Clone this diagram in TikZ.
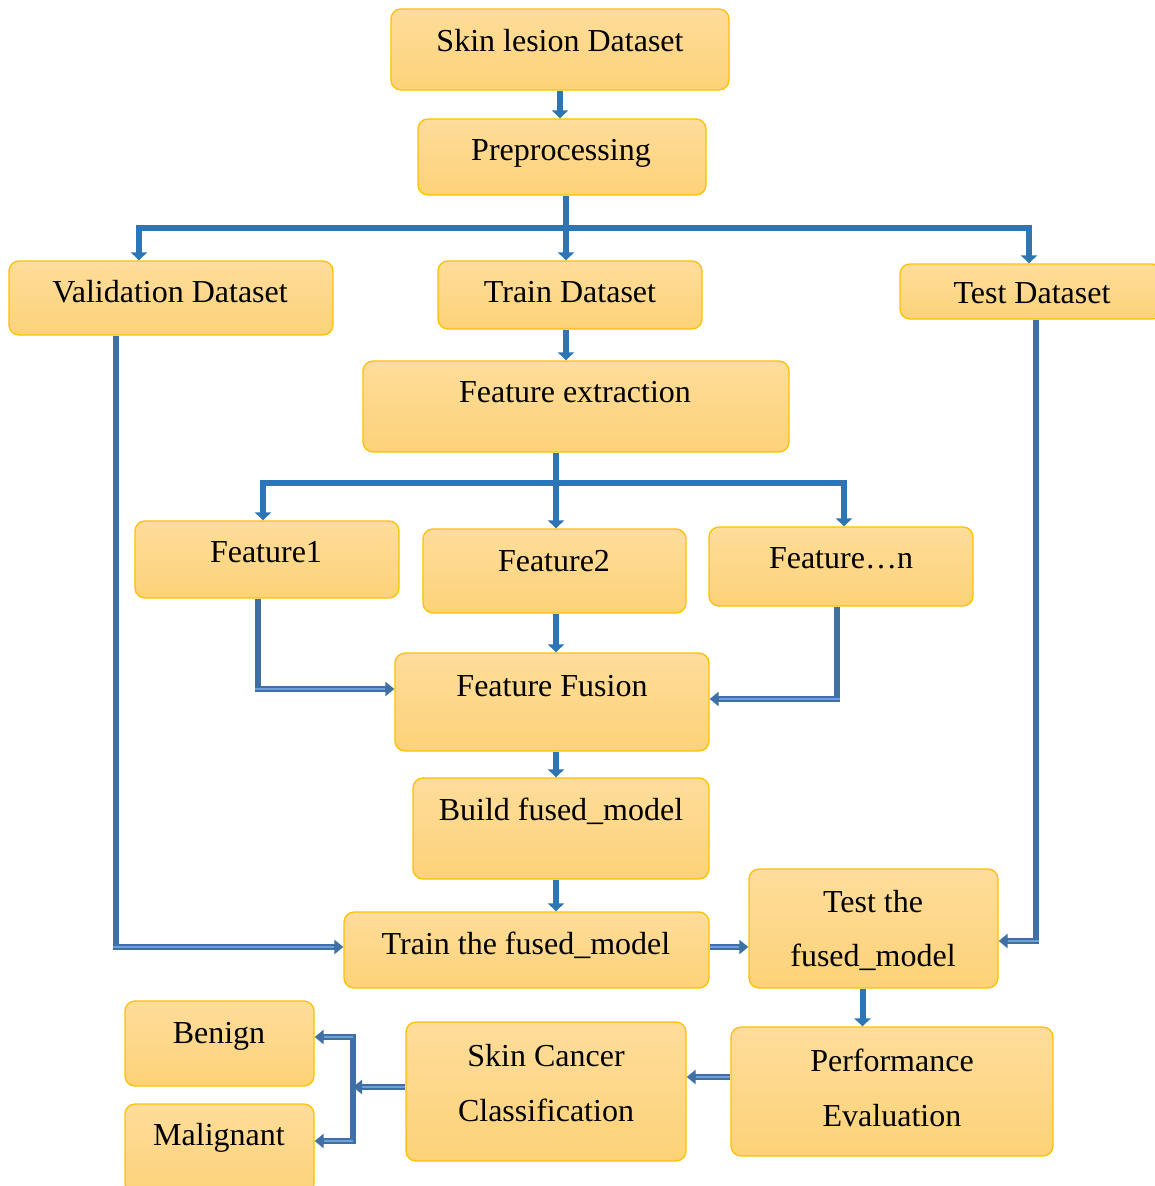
\documentclass[tikz,border=0pt]{standalone}
\usepackage{fontspec}
\setmainfont{Liberation Serif}
\usetikzlibrary{arrows.meta,calc}
\definecolor{boxtop}{RGB}{254,221,155}
\definecolor{boxbot}{RGB}{253,210,120}
\definecolor{boxline}{RGB}{255,192,0}
\definecolor{arrblue}{RGB}{46,117,182}
\definecolor{dbldark}{RGB}{62,112,165}
\definecolor{dbllight}{RGB}{110,160,215}
\tikzset{
  box/.style={draw=boxline, line width=1.3pt, rounded corners=10pt, top color=boxtop, bottom color=boxbot, inner sep=0pt},
  lbl/.style={anchor=base, inner sep=0pt, font=\fontsize{32}{38}\selectfont},
  arr/.style={draw=arrblue, line width=6pt, -{Triangle[width=16pt,length=8pt]}},
  dbar/.style={draw=dbldark, line width=6.5pt},
  dbl/.style={draw=dbldark, line width=6.5pt, -{Triangle[width=14pt,length=9pt]},
    postaction={draw=dbllight, line width=2.2pt, shorten >=9pt, -}}
}
\newcommand{\mkbox}[5]{\node[box, minimum width={(#4)-(#2)}, minimum height={(#5)-(#3)}] (#1) at ({((#2)+(#4))/2},{((#3)+(#5))/2}) {};}
\begin{document}
\begin{tikzpicture}[x=1pt,y=-1pt]
\useasboundingbox (0,0) rectangle (1154,1186);
% boxes
\mkbox{skin}{391}{9}{729}{90}
\mkbox{prep}{418}{119}{706}{195}
\mkbox{val}{9}{261}{333}{335}
\mkbox{train}{438}{261}{702}{329}
\mkbox{test}{900}{264}{1162}{319}
\mkbox{fe}{363}{361}{789}{452}
\mkbox{fa}{135}{521}{399}{598}
\mkbox{fb}{423}{529}{686}{613}
\mkbox{fn}{709}{527}{973}{606}
\mkbox{ff}{395}{653}{709}{751}
\mkbox{build}{413}{778}{709}{879}
\mkbox{trainf}{344}{912}{709}{988}
\mkbox{testf}{749}{869}{998}{988}
\mkbox{ben}{125}{1001}{314}{1086}
\mkbox{mal}{125}{1104}{314}{1194}
\mkbox{cls}{406}{1022}{686}{1161}
\mkbox{perf}{731}{1027}{1053}{1156}
% labels
\node[lbl] (tskin) at (560,51) {Skin lesion Dataset};
\node[lbl] (tprep) at (561,160) {Preprocessing};
\node[lbl] (tval) at (170,302) {Validation Dataset};
\node[lbl] (ttrain) at (570,302) {Train Dataset};
\node[lbl] (ttest) at (1032,303) {Test Dataset};
\node[lbl] (tfe) at (575,402) {Feature extraction};
\node[lbl] (tfa) at (266,562) {Feature1};
\node[lbl] (tfb) at (554,571) {Feature2};
\node[lbl] (tfn) at (841,568) {Feature…n};
\node[lbl] (tff) at (552,696) {Feature Fusion};
\node[lbl] (tbuild) at (561,820) {Build fused\_model};
\node[lbl] (ttrainf) at (526,954) {Train the fused\_model};
\node[lbl] (ttestf1) at (873,912) {Test the};
\node[lbl] (ttestf2) at (873,966) {fused\_model};
\node[lbl] (tben) at (219,1043) {Benign};
\node[lbl] (tmal) at (219,1145) {Malignant};
\node[lbl] (tcls1) at (546,1066) {Skin Cancer};
\node[lbl] (tcls2) at (546,1121) {Classification};
\node[lbl] (tperf1) at (892,1071) {Performance};
\node[lbl] (tperf2) at (892,1126) {Evaluation};
% helper coordinates
\coordinate (busA) at (566,228);
\coordinate (busB) at (556,483);
\coordinate (split) at (353,1087);
\coordinate (prepS) at ($(prep.south)+(4,0)$);
\coordinate (trainS) at ($(train.south)+(-4,0)$);
\coordinate (faS) at ($(fa.south)+(-9,0)$);
\coordinate (fnS) at ($(fn.south)+(-4,0)$);
\coordinate (valS) at ($(val.south)+(-55,0)$);
\coordinate (testS) at ($(test.south)+(5,0)$);
\coordinate (testfS) at ($(testf.south)+(-11,0)$);
\coordinate (ffW) at ($(ff.west)+(0,-13)$);
\coordinate (ffE) at ($(ff.east)+(0,-3)$);
\coordinate (trainfW) at ($(trainf.west)+(0,-3)$);
\coordinate (trainfE) at ($(trainf.east)+(0,-3)$);
\coordinate (testfE) at ($(testf.east)+(0,12.5)$);
\coordinate (perfW) at ($(perf.west)+(0,-14.5)$);
\coordinate (clsW) at ($(cls.west)+(0,-4.5)$);
\coordinate (splitT) at ($(split)+(0,-53)$);
\coordinate (splitB) at ($(split)+(0,57)$);
\coordinate (splitBen) at ($(split)+(0,-50)$);
\coordinate (splitMal) at ($(split)+(0,54)$);
% connectors
\draw[arr] (skin.south) -- (skin.south |- prep.north);
\draw[arr] (prepS) -- (prepS |- train.north);
\draw[arr] (busA) -| ($(val.north)+(-32,0)$);
\draw[arr] (busA) -| ($(test.north)+(-2,0)$);
\draw[arr] (trainS) -- (trainS |- fe.north);
\draw[arr] (fe.south -| busB) -- (busB |- fb.north);
\draw[arr] (busB) -| ($(fa.north)+(-4,0)$);
\draw[arr] (busB) -| ($(fn.north)+(3,0)$);
\draw[dbar] (faS) -- (faS |- ffW);
\draw[dbl] ([xshift=-3.25pt]faS |- ffW) -- (ffW);
\draw[arr] (fb.south -| busB) -- (busB |- ff.north);
\draw[dbar] (fnS) -- (fnS |- ffE);
\draw[dbl] ([xshift=3.25pt]fnS |- ffE) -- (ffE);
\draw[arr] (ff.south -| busB) -- (busB |- build.north);
\draw[arr] (build.south -| busB) -- (busB |- trainf.north);
\draw[dbar] (valS) -- (valS |- trainfW);
\draw[dbl] ([xshift=-3.25pt]valS |- trainfW) -- (trainfW);
\draw[dbl] (trainfE) -- (trainfE -| testf.west);
\draw[dbar] (testS) -- (testS |- testfE);
\draw[dbl] ([xshift=3.25pt]testS |- testfE) -- (testfE);
\draw[arr] (testfS) -- (testfS |- perf.north);
\draw[dbl] (perfW) -- (perfW -| cls.east);
\draw[dbl] (clsW) -- (split);
\draw[dbar] (splitT) -- (splitB);
\draw[dbl] (splitBen) -- (splitBen -| ben.east);
\draw[dbl] (splitMal) -- (splitMal -| mal.east);
\end{tikzpicture}
\end{document}
